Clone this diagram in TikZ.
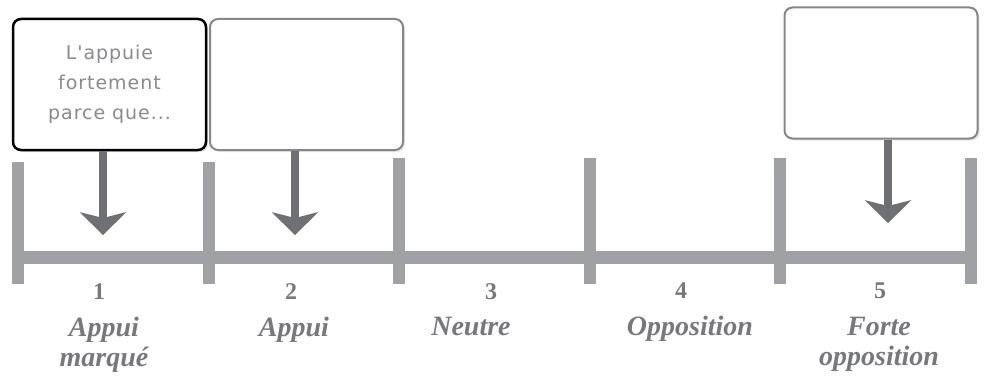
\documentclass[tikz,border=0pt]{standalone}
\usepackage{fontspec}
\setmainfont{Liberation Serif}
\newfontfamily\scrawlfont{DejaVu Sans}[LetterSpace=5]
\usetikzlibrary{arrows.meta,shadows}
\definecolor{bargray}{HTML}{A0A1A4}
\definecolor{arrowgray}{HTML}{6F7073}
\definecolor{boxgray}{HTML}{86878A}
\definecolor{labelgray}{HTML}{77787B}
\definecolor{inkgray}{HTML}{8A8B8E}
\tikzset{
  card/.style={draw=boxgray, line width=2pt, fill=white, rounded corners=8pt,
    minimum width=193pt, minimum height=131pt, inner sep=0pt,
    drop shadow={shadow xshift=2pt, shadow yshift=-2pt, opacity=0.2}},
  pointer/.style={draw=arrowgray, line width=8pt,
    -{Stealth[length=23pt, width=47pt, inset=6pt, line width=0pt]}},
  bar/.style={draw=bargray, line width=12pt},
  score/.style={text=labelgray, font=\fontsize{24}{28}\selectfont\bfseries,
    anchor=north, inner sep=0pt},
  level/.style={text=labelgray, font=\fontsize{28}{30}\selectfont\bfseries\itshape,
    align=center, anchor=north, inner sep=0pt},
  scrawl/.style={text=inkgray, font=\fontsize{19}{30}\selectfont\scrawlfont, align=center}
}
\begin{document}
\begin{tikzpicture}[x=1pt, y=-1pt]
      \useasboundingbox (0,0) rectangle (987,377);

      \draw[draw=bargray, line width=13pt] (12,257.5) -- (977,257.5);
      \draw[bar] (18,162) -- (18,284);
      \draw[bar] (209,162) -- (209,284);
      \draw[bar] (399,158) -- (399,284);
      \draw[bar] (590,158) -- (590,284);
      \draw[bar] (780,158) -- (780,284);
      \draw[bar] (971,158) -- (971,284);

      \node[card, draw=black, line width=2.5pt, scrawl] (card1) at (109.5,84.5)
        {L'appuie\\fortement\\parce que...};
      \node[card] (card2) at (306.5,84.5) {};
      \node[card] (card5) at (881,73) {};

      \coordinate (tip1) at (103,235);
      \coordinate (tip2) at (295,235);
      \coordinate (tip5) at (888,223);

      \draw[pointer] (card1.south -| tip1) -- (tip1);
      \draw[pointer] (card2.south -| tip2) -- (tip2);
      \draw[pointer] (card5.south -| tip5) -- (tip5);

      \node[score] (num1) at (99,283) {1};
      \node[score] (num2) at (291,283) {2};
      \node[score] (num3) at (491,283) {3};
      \node[score] (num4) at (681,283) {4};
      \node[score] (num5) at (880,283) {5};

      \node[level] (lvl1) at (104,317) {Appui\\marqué};
      \node[level] (lvl2) at (294,317) {Appui};
      \node[level] (lvl3) at (471,317) {Neutre};
      \node[level] (lvl4) at (690,316) {Opposition};
      \node[level] (lvl5) at (879,317) {Forte\\opposition};
    \end{tikzpicture}
\end{document}
